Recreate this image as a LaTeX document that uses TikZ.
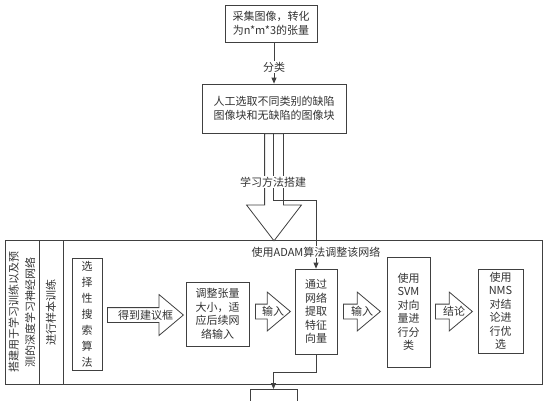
\documentclass[tikz,border=0pt]{standalone}
\usepackage{fontspec}
\setmainfont{Noto Sans CJK SC}
\usetikzlibrary{positioning,arrows.meta,calc,shapes.arrows}
\definecolor{dink}{HTML}{333333}
\definecolor{dline}{HTML}{404040}
\tikzset{
  box/.style   ={draw=dline, line width=0.8pt, fill=white, align=center,
                 inner sep=2pt, font=\fontsize{11}{13.5}\selectfont, text=dink},
  colbox/.style={box, rotate=90, minimum width=144pt},
  hollow/.style={single arrow, draw=dline, line width=0.8pt, fill=white,
                 inner xsep=0pt, inner ysep=7pt, single arrow tip angle=80,
                 single arrow head extend=12pt},
  htext/.style ={font=\fontsize{11}{13}\selectfont, text=dink, inner sep=0pt},
  note/.style  ={font=\fontsize{11}{13}\selectfont, text=dink, fill=white, inner sep=1pt},
  flow/.style  ={-{Triangle[length=6pt,width=5pt]}, line width=0.8pt, draw=dline},
}
\begin{document}
\begin{tikzpicture}[x=1pt, y=-1pt]
  \useasboundingbox (0,0) rectangle (548,400);
  \clip (0,0) rectangle (548,400);
  % preparing the samples
  \node[box, minimum width=92pt, minimum height=37pt] (grab) at (271,23.5) {采集图像，转化\\为n*m*3的张量};
  \node[box, minimum width=144pt, minimum height=49pt] (pick) at (274,108.5) {人工选取不同类别的缺陷\\图像块和无缺陷的图像块};
  \draw[flow] (pick.north |- grab.south) -- node[note, pos=0.6]{分类} (pick.north);
  % training frame
  \node[draw=dline, line width=0.8pt, minimum width=537pt, minimum height=144pt] (net) at (273.5,312) {};
  \node[colbox, minimum height=34pt] (build) at (22,312) {搭建用于学习训练以及预\\[3pt]测的深度学习神经网络};
  \node[colbox, minimum height=24pt] (train) at (51,312) {进行样本训练};
  \node[hollow, shape border rotate=270, minimum height=107pt, inner xsep=9pt, inner ysep=9pt,
        single arrow head extend=18pt, single arrow tip angle=75, anchor=tail] (learn) at (pick.south) {};
  \node[box, minimum width=30pt, minimum height=112pt, font=\fontsize{11}{16}\selectfont] (sel) at (87,314) {选\\择\\性\\搜\\索\\算\\法};
  \node[box, minimum width=63pt, minimum height=64pt] (resize) at (217.5,314) {调整张量\\大小，适\\应后续网\\络输入};
  \node[box, minimum width=42pt, minimum height=85pt] (feat) at (316,311.5) {通过\\网络\\提取\\特征\\向量};
  \node[box, minimum width=43pt, minimum height=110pt] (svm) at (408.5,312) {使用\\SVM\\对向\\量进\\行分\\类};
  \node[box, minimum width=45pt, minimum height=84pt] (nms) at (500.5,311) {使用\\NMS\\对结\\论进\\行优\\选};
  % hollow arrows between the steps
  \node[hollow, single arrow head extend=13pt, minimum height=76pt, anchor=tail] (prop) at (107,315) {};
  \node[htext] at ($(prop.tail)!0.5!(prop.tip)$) {得到建议框};
  \node[hollow, minimum height=35pt, anchor=tail] (in1) at (255,311.5) {};
  \node[htext] at ($(in1.tail)!0.5!(in1.tip)$) {输入};
  \node[hollow, minimum height=37pt, anchor=tail] (in2) at (343,311.5) {};
  \node[htext] at ($(in2.tail)!0.5!(in2.tip)$) {输入};
  \node[hollow, minimum height=37pt, anchor=tail] (res) at (435,311.5) {};
  \node[htext] at ($(res.tail)!0.5!(res.tip)$) {结论};
  % thin connectors
  \draw[flow] ([xshift=-1pt]pick.south) -- node[note, pos=0.73]{学习方法搭建} ++(0,67)
    -| node[note, pos=0.88]{使用ADAM算法调整该网络} (feat.north);
  \node[box, minimum width=47pt, minimum height=30pt, anchor=north] (out) at (273.5,389) {};
  \draw[flow] (feat.south) -- ++(0,18) -| (out.north);
\end{tikzpicture}
\end{document}
